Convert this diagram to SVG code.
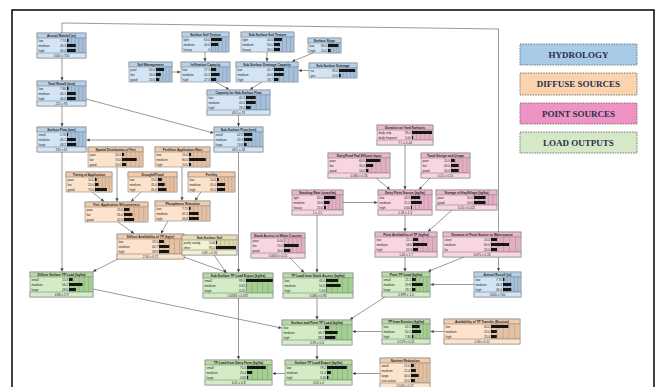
<svg xmlns="http://www.w3.org/2000/svg" width="659" height="387" viewBox="0 0 659 387">
<defs>
<style>
.b,.h,.f{stroke:#6c737a;stroke-width:0.5}
.g{stroke:#6c737a;stroke-width:0.3}
.hy .b,.hy .f{fill:#d3e5f5}.hy .h{fill:#b7d0e8}.hy .g{fill:url(#gB)}
.di .b,.di .f{fill:#fde3cb}.di .h{fill:#f2cbab}.di .g{fill:url(#gO)}
.po .b,.po .f{fill:#f9d5e2}.po .h{fill:#ebb6ca}.po .g{fill:url(#gP)}
.lo .b,.lo .f{fill:#d3ecc6}.lo .h{fill:#b7d9a4}.lo .g{fill:url(#gG)}
.ye .b,.ye .f{fill:#f4f0d2}.ye .h{fill:#e4deb2}.ye .g{fill:url(#gY)}
.bar{fill:#151515}
text{font-family:"Liberation Sans",Arial,sans-serif;fill:#1e1e1e}
.t{font-size:3.2px;font-weight:bold;text-anchor:middle}
.s{font-size:3.1px}
.v{font-size:3.1px;text-anchor:end}
.m{font-size:3.1px;text-anchor:middle}
.c path{fill:none;stroke:#555;stroke-width:0.6;marker-end:url(#ar)}
.lg rect{stroke:#666;stroke-width:0.8;stroke-dasharray:1.6 1}
.lg text{font-family:"Liberation Serif","Times New Roman",serif;font-weight:bold;font-size:9px;fill:#283048;text-anchor:middle}
</style>
<marker id="ar" viewBox="0 0 6 6" refX="6" refY="3" markerWidth="3.2" markerHeight="3.2" markerUnits="userSpaceOnUse" orient="auto"><path d="M0,0L6,3L0,6z" fill="#444"/></marker>
<pattern id="gB" patternUnits="objectBoundingBox" width="0.2" height="1"><rect width="60" height="60" fill="#a7c0da"/><rect width="0.4" height="60" fill="#6f87a0"/></pattern>
<pattern id="gO" patternUnits="objectBoundingBox" width="0.2" height="1"><rect width="60" height="60" fill="#e5c1a3"/><rect width="0.4" height="60" fill="#a8866c"/></pattern>
<pattern id="gP" patternUnits="objectBoundingBox" width="0.2" height="1"><rect width="60" height="60" fill="#e1b0c3"/><rect width="0.4" height="60" fill="#a67a8c"/></pattern>
<pattern id="gG" patternUnits="objectBoundingBox" width="0.2" height="1"><rect width="60" height="60" fill="#a5cf92"/><rect width="0.4" height="60" fill="#6c9a5a"/></pattern>
<pattern id="gY" patternUnits="objectBoundingBox" width="0.2" height="1"><rect width="60" height="60" fill="#ded7a6"/><rect width="0.4" height="60" fill="#9d9670"/></pattern>
</defs>
<rect width="659" height="387" fill="#fff"/>
<rect x="12" y="10" width="642" height="385" fill="none" stroke="#111" stroke-width="1.6"/>

<g id="legend" class="lg">
<rect x="520" y="44" width="117" height="21" fill="#a8cbe8"/><text x="578.5" y="57.5">HYDROLOGY</text>
<rect x="520" y="73" width="117" height="22" fill="#fbd3ae"/><text x="578.5" y="87">DIFFUSE SOURCES</text>
<rect x="520" y="103" width="117" height="21" fill="#ef93c4"/><text x="578.5" y="116.5">POINT SOURCES</text>
<rect x="520" y="132" width="117" height="21" fill="#d5e8c8"/><text x="578.5" y="145.5">LOAD OUTPUTS</text>
</g>

<g id="connectors" class="c">
<path d="M62,33 V23 L498.5,29 V271"/>
<path d="M62,58 V80.5"/>
<path d="M62,106 V126.5"/>
<path d="M86,99 L213.5,133"/>
<path d="M214,140 H86.5"/>
<path d="M62,152 V271.5"/>
<path d="M172,72 H180.5"/>
<path d="M205,52 V61.5"/>
<path d="M267,52 V61.5"/>
<path d="M313,53 L292,61.5"/>
<path d="M309,70.5 H298.5"/>
<path d="M216,82 L229,89.5"/>
<path d="M262,82 L250,89.5"/>
<path d="M238.5,115 V126.5"/>
<path d="M238.5,152 V272.5"/>
<path d="M474,284.5 H430.5"/>
<path d="M117,167 V201.5"/>
<path d="M92,192 L104,201.5"/>
<path d="M141,192 L131,201.5"/>
<path d="M182,167 V200.5"/>
<path d="M201,192 L195,200.5"/>
<path d="M118,222 L134,233.5"/>
<path d="M168,221 L161,233.5"/>
<path d="M118,259 L93,271.5"/>
<path d="M184,257 L227,272.5"/>
<path d="M214,255 L226,272.5"/>
<path d="M93,289 L281.5,328"/>
<path d="M444,331.5 H430.5"/>
<path d="M380,373.5 H352.5"/>
<path d="M405,145 V189.5"/>
<path d="M376,178 L390,189.5"/>
<path d="M430,178 L419,189.5"/>
<path d="M343,202.5 H377.5"/>
<path d="M405,215 V231.5"/>
<path d="M452,210 L428,231.5"/>
<path d="M405,257 V271.5"/>
<path d="M464,257 L428,271.5"/>
<path d="M317,215 V272.5"/>
<path d="M290,258 L304,272.5"/>
<path d="M317,298 V319.5"/>
<path d="M385,297 L350,319.5"/>
<path d="M382,331.5 H352.5"/>
<path d="M317,345 V359.5"/>
<path d="M238.5,298 V359.5"/>
<path d="M285,373.5 H272.5"/>
</g>

<g id="annual-rainfall" class="hy" transform="translate(37,33)"><rect class="b" width="49" height="25"/><rect class="h" width="49" height="5"/><text class="t" x="24.5" y="3.7">Annual Rainfall (m)</text><rect class="g" x="30" y="5" width="19" height="15"/>
<text class="s" x="1.5" y="8.7">low</text><text class="v" x="29" y="8.7">7.70</text><rect class="bar" x="30" y="6" width="1.5" height="3"/>
<text class="s" x="1.5" y="13.7">medium</text><text class="v" x="29" y="13.7">46.3</text><rect class="bar" x="30" y="11" width="8.8" height="3"/>
<text class="s" x="1.5" y="18.7">high</text><text class="v" x="29" y="18.7">46.0</text><rect class="bar" x="30" y="16" width="8.7" height="3"/>
<rect class="f" y="20" width="49" height="5"/><text class="m" x="24.5" y="23.7">1000 ± 700</text></g>

<g id="total-runoff" class="hy" transform="translate(37,81)"><rect class="b" width="49" height="25"/><rect class="h" width="49" height="5"/><text class="t" x="24.5" y="3.7">Total Runoff (mm)</text><rect class="g" x="30" y="5" width="19" height="15"/>
<text class="s" x="1.5" y="8.7">low</text><text class="v" x="29" y="8.7">7.86</text><rect class="bar" x="30" y="6" width="1.5" height="3"/>
<text class="s" x="1.5" y="13.7">medium</text><text class="v" x="29" y="13.7">46.1</text><rect class="bar" x="30" y="11" width="8.8" height="3"/>
<text class="s" x="1.5" y="18.7">high</text><text class="v" x="29" y="18.7">46.0</text><rect class="bar" x="30" y="16" width="8.7" height="3"/>
<rect class="f" y="20" width="49" height="5"/><text class="m" x="24.5" y="23.7">215 ± 95</text></g>

<g id="surface-flow" class="hy" transform="translate(37,127)"><rect class="b" width="49" height="25"/><rect class="h" width="49" height="5"/><text class="t" x="24.5" y="3.7">Surface Flow (mm)</text><rect class="g" x="30" y="5" width="19" height="15"/>
<text class="s" x="1.5" y="8.7">small</text><text class="v" x="29" y="8.7">5.76</text><rect class="bar" x="30" y="6" width="1.1" height="3"/>
<text class="s" x="1.5" y="13.7">medium</text><text class="v" x="29" y="13.7">46.1</text><rect class="bar" x="30" y="11" width="8.8" height="3"/>
<text class="s" x="1.5" y="18.7">large</text><text class="v" x="29" y="18.7">48.2</text><rect class="bar" x="30" y="16" width="9.2" height="3"/>
<rect class="f" y="20" width="49" height="5"/><text class="m" x="24.5" y="23.7">190 ± 61</text></g>

<g id="surface-soil-texture" class="hy" transform="translate(182,32)"><rect class="b" width="47" height="20"/><rect class="h" width="47" height="5"/><text class="t" x="23.5" y="3.7">Surface Soil Texture</text><rect class="g" x="29" y="5" width="18" height="15"/>
<text class="s" x="1.5" y="8.7">light</text><text class="v" x="28" y="8.7">60.0</text><rect class="bar" x="29" y="6" width="10.8" height="3"/>
<text class="s" x="1.5" y="13.7">medium</text><text class="v" x="28" y="13.7">40.0</text><rect class="bar" x="29" y="11" width="7.2" height="3"/>
<text class="s" x="1.5" y="18.7">heavy</text><text class="v" x="28" y="18.7">0</text></g>

<g id="sub-surface-soil-texture" class="hy" transform="translate(241,32)"><rect class="b" width="53" height="20"/><rect class="h" width="53" height="5"/><text class="t" x="26.5" y="3.7">Sub-Surface Soil Texture</text><rect class="g" x="33" y="5" width="20" height="15"/>
<text class="s" x="1.5" y="8.7">light</text><text class="v" x="32" y="8.7">40.0</text><rect class="bar" x="33" y="6" width="8" height="3"/>
<text class="s" x="1.5" y="13.7">medium</text><text class="v" x="32" y="13.7">30.0</text><rect class="bar" x="33" y="11" width="6" height="3"/>
<text class="s" x="1.5" y="18.7">heavy</text><text class="v" x="32" y="18.7">30.0</text><rect class="bar" x="33" y="16" width="6" height="3"/></g>

<g id="surface-slope" class="hy" transform="translate(308,38)"><rect class="b" width="33" height="15"/><rect class="h" width="33" height="5"/><text class="t" x="16.5" y="3.7">Surface Slope</text><rect class="g" x="20" y="5" width="13" height="10"/>
<text class="s" x="1.5" y="8.7">low</text><text class="v" x="19" y="8.7">80.0</text><rect class="bar" x="20" y="6" width="10.4" height="3"/>
<text class="s" x="1.5" y="13.7">high</text><text class="v" x="19" y="13.7">20.0</text><rect class="bar" x="20" y="11" width="2.6" height="3"/></g>

<g id="soil-management" class="hy" transform="translate(129,62)"><rect class="b" width="43" height="20"/><rect class="h" width="43" height="5"/><text class="t" x="21.5" y="3.7">Soil Management</text><rect class="g" x="27" y="5" width="16" height="15"/>
<text class="s" x="1.5" y="8.7">poor</text><text class="v" x="26" y="8.7">50.0</text><rect class="bar" x="27" y="6" width="8" height="3"/>
<text class="s" x="1.5" y="13.7">fair</text><text class="v" x="26" y="13.7">30.0</text><rect class="bar" x="27" y="11" width="4.8" height="3"/>
<text class="s" x="1.5" y="18.7">good</text><text class="v" x="26" y="18.7">20.0</text><rect class="bar" x="27" y="16" width="3.2" height="3"/></g>

<g id="infiltration-capacity" class="hy" transform="translate(181,62)"><rect class="b" width="49" height="20"/><rect class="h" width="49" height="5"/><text class="t" x="24.5" y="3.7">Infiltration Capacity</text><rect class="g" x="30" y="5" width="19" height="15"/>
<text class="s" x="1.5" y="8.7">low</text><text class="v" x="29" y="8.7">27.3</text><rect class="bar" x="30" y="6" width="5.2" height="3"/>
<text class="s" x="1.5" y="13.7">medium</text><text class="v" x="29" y="13.7">45.5</text><rect class="bar" x="30" y="11" width="8.6" height="3"/>
<text class="s" x="1.5" y="18.7">high</text><text class="v" x="29" y="18.7">27.3</text><rect class="bar" x="30" y="16" width="5.2" height="3"/></g>

<g id="sub-surface-drainage-capacity" class="hy" transform="translate(236,62)"><rect class="b" width="62" height="20"/><rect class="h" width="62" height="5"/><text class="t" x="31" y="3.7">Sub-Surface Drainage Capacity</text><rect class="g" x="38" y="5" width="24" height="15"/>
<text class="s" x="1.5" y="8.7">low</text><text class="v" x="37" y="8.7">40.7</text><rect class="bar" x="38" y="6" width="9.8" height="3"/>
<text class="s" x="1.5" y="13.7">medium</text><text class="v" x="37" y="13.7">40.6</text><rect class="bar" x="38" y="11" width="9.7" height="3"/>
<text class="s" x="1.5" y="18.7">high</text><text class="v" x="37" y="18.7">18.7</text><rect class="bar" x="38" y="16" width="4.5" height="3"/></g>

<g id="sub-surface-drainage" class="hy" transform="translate(309,63)"><rect class="b" width="48" height="15"/><rect class="h" width="48" height="5"/><text class="t" x="24" y="3.7">Sub-Surface Drainage</text><rect class="g" x="30" y="5" width="18" height="10"/>
<text class="s" x="1.5" y="8.7">no</text><text class="v" x="29" y="8.7">90.0</text><rect class="bar" x="30" y="6" width="16.2" height="3"/>
<text class="s" x="1.5" y="13.7">yes</text><text class="v" x="29" y="13.7">10.0</text><rect class="bar" x="30" y="11" width="1.8" height="3"/></g>

<g id="capacity-sub-surface-flow" class="hy" transform="translate(207,90)"><rect class="b" width="63" height="25"/><rect class="h" width="63" height="5"/><text class="t" x="31.5" y="3.7">Capacity for Sub-Surface Flow</text><rect class="g" x="39" y="5" width="24" height="15"/>
<text class="s" x="1.5" y="8.7">low</text><text class="v" x="38" y="8.7">40.3</text><rect class="bar" x="39" y="6" width="9.7" height="3"/>
<text class="s" x="1.5" y="13.7">medium</text><text class="v" x="38" y="13.7">40.5</text><rect class="bar" x="39" y="11" width="9.7" height="3"/>
<text class="s" x="1.5" y="18.7">high</text><text class="v" x="38" y="18.7">19.2</text><rect class="bar" x="39" y="16" width="4.6" height="3"/>
<rect class="f" y="20" width="63" height="5"/><text class="m" x="31.5" y="23.7">49.5 ± 19</text></g>

<g id="sub-surface-flow" class="hy" transform="translate(214,127)"><rect class="b" width="49" height="25"/><rect class="h" width="49" height="5"/><text class="t" x="24.5" y="3.7">Sub-Surface Flow (mm)</text><rect class="g" x="30" y="5" width="19" height="15"/>
<text class="s" x="1.5" y="8.7">small</text><text class="v" x="29" y="8.7">42.9</text><rect class="bar" x="30" y="6" width="8.2" height="3"/>
<text class="s" x="1.5" y="13.7">medium</text><text class="v" x="29" y="13.7">43.3</text><rect class="bar" x="30" y="11" width="8.2" height="3"/>
<text class="s" x="1.5" y="18.7">large</text><text class="v" x="29" y="18.7">13.8</text><rect class="bar" x="30" y="16" width="2.6" height="3"/>
<rect class="f" y="20" width="49" height="5"/><text class="m" x="24.5" y="23.7">49.5 ± 18</text></g>

<g id="annual-runoff" class="hy" transform="translate(474,272)"><rect class="b" width="47" height="25"/><rect class="h" width="47" height="5"/><text class="t" x="23.5" y="3.7">Annual Runoff (m)</text><rect class="g" x="29" y="5" width="18" height="15"/>
<text class="s" x="1.5" y="8.7">low</text><text class="v" x="28" y="8.7">7.70</text><rect class="bar" x="29" y="6" width="1.4" height="3"/>
<text class="s" x="1.5" y="13.7">medium</text><text class="v" x="28" y="13.7">46.3</text><rect class="bar" x="29" y="11" width="8.3" height="3"/>
<text class="s" x="1.5" y="18.7">high</text><text class="v" x="28" y="18.7">46.0</text><rect class="bar" x="29" y="16" width="8.3" height="3"/>
<rect class="f" y="20" width="47" height="5"/><text class="m" x="23.5" y="23.7">1000 ± 700</text></g>

<g id="spatial-distribution" class="di" transform="translate(88,147)"><rect class="b" width="55" height="20"/><rect class="h" width="55" height="5"/><text class="t" x="27.5" y="3.7">Spatial Distribution of Fert</text><rect class="g" x="34" y="5" width="21" height="15"/>
<text class="s" x="1.5" y="8.7">poor</text><text class="v" x="33" y="8.7">10.0</text><rect class="bar" x="34" y="6" width="2.1" height="3"/>
<text class="s" x="1.5" y="13.7">fair</text><text class="v" x="33" y="13.7">70.0</text><rect class="bar" x="34" y="11" width="14.7" height="3"/>
<text class="s" x="1.5" y="18.7">good</text><text class="v" x="33" y="18.7">20.0</text><rect class="bar" x="34" y="16" width="4.2" height="3"/></g>

<g id="fertiliser-application-rate" class="di" transform="translate(155,147)"><rect class="b" width="55" height="20"/><rect class="h" width="55" height="5"/><text class="t" x="27.5" y="3.7">Fertiliser Application Rate</text><rect class="g" x="34" y="5" width="21" height="15"/>
<text class="s" x="1.5" y="8.7">low</text><text class="v" x="33" y="8.7">10.0</text><rect class="bar" x="34" y="6" width="2.1" height="3"/>
<text class="s" x="1.5" y="13.7">medium</text><text class="v" x="33" y="13.7">80.0</text><rect class="bar" x="34" y="11" width="16.8" height="3"/>
<text class="s" x="1.5" y="18.7">high</text><text class="v" x="33" y="18.7">10.0</text><rect class="bar" x="34" y="16" width="2.1" height="3"/></g>

<g id="timing-of-application" class="di" transform="translate(66,172)"><rect class="b" width="46" height="20"/><rect class="h" width="46" height="5"/><text class="t" x="23" y="3.7">Timing of Application</text><rect class="g" x="29" y="5" width="17" height="15"/>
<text class="s" x="1.5" y="8.7">poor</text><text class="v" x="28" y="8.7">10.0</text><rect class="bar" x="29" y="6" width="1.7" height="3"/>
<text class="s" x="1.5" y="13.7">fair</text><text class="v" x="28" y="13.7">20.0</text><rect class="bar" x="29" y="11" width="3.4" height="3"/>
<text class="s" x="1.5" y="18.7">good</text><text class="v" x="28" y="18.7">70.0</text><rect class="bar" x="29" y="16" width="11.9" height="3"/></g>

<g id="drought-flood" class="di" transform="translate(128,172)"><rect class="b" width="49" height="20"/><rect class="h" width="49" height="5"/><text class="t" x="24.5" y="3.7">Drought/Flood</text><rect class="g" x="30" y="5" width="19" height="15"/>
<text class="s" x="1.5" y="8.7">low</text><text class="v" x="29" y="8.7">20.0</text><rect class="bar" x="30" y="6" width="3.8" height="3"/>
<text class="s" x="1.5" y="13.7">medium</text><text class="v" x="29" y="13.7">35.0</text><rect class="bar" x="30" y="11" width="6.7" height="3"/>
<text class="s" x="1.5" y="18.7">high</text><text class="v" x="29" y="18.7">45.0</text><rect class="bar" x="30" y="16" width="8.5" height="3"/></g>

<g id="fertility" class="di" transform="translate(188,172)"><rect class="b" width="47" height="20"/><rect class="h" width="47" height="5"/><text class="t" x="23.5" y="3.7">Fertility</text><rect class="g" x="29" y="5" width="18" height="15"/>
<text class="s" x="1.5" y="8.7">low</text><text class="v" x="28" y="8.7">10.0</text><rect class="bar" x="29" y="6" width="1.8" height="3"/>
<text class="s" x="1.5" y="13.7">medium</text><text class="v" x="28" y="13.7">45.0</text><rect class="bar" x="29" y="11" width="8.1" height="3"/>
<text class="s" x="1.5" y="18.7">high</text><text class="v" x="28" y="18.7">45.0</text><rect class="bar" x="29" y="16" width="8.1" height="3"/></g>

<g id="fert-application-effectiveness" class="di" transform="translate(85,202)"><rect class="b" width="63" height="20"/><rect class="h" width="63" height="5"/><text class="t" x="31.5" y="3.7">Fert. Application Effectiveness</text><rect class="g" x="39" y="5" width="24" height="15"/>
<text class="s" x="1.5" y="8.7">poor</text><text class="v" x="38" y="8.7">23.0</text><rect class="bar" x="39" y="6" width="5.5" height="3"/>
<text class="s" x="1.5" y="13.7">fair</text><text class="v" x="38" y="13.7">35.0</text><rect class="bar" x="39" y="11" width="8.4" height="3"/>
<text class="s" x="1.5" y="18.7">good</text><text class="v" x="38" y="18.7">42.0</text><rect class="bar" x="39" y="16" width="10.1" height="3"/></g>

<g id="phosphorus-retention" class="di" transform="translate(155,201)"><rect class="b" width="55" height="20"/><rect class="h" width="55" height="5"/><text class="t" x="27.5" y="3.7">Phosphorus Retention</text><rect class="g" x="34" y="5" width="21" height="15"/>
<text class="s" x="1.5" y="8.7">low</text><text class="v" x="33" y="8.7">7.75</text><rect class="bar" x="34" y="6" width="1.6" height="3"/>
<text class="s" x="1.5" y="13.7">medium</text><text class="v" x="33" y="13.7">45.5</text><rect class="bar" x="34" y="11" width="9.6" height="3"/>
<text class="s" x="1.5" y="18.7">high</text><text class="v" x="33" y="18.7">46.8</text><rect class="bar" x="34" y="16" width="9.8" height="3"/></g>

<g id="diffuse-availability-tp" class="di" transform="translate(117,234)"><rect class="b" width="67" height="25"/><rect class="h" width="67" height="5"/><text class="t" x="33.5" y="3.7">Diffuse Availability of TP (kg/yr)</text><rect class="g" x="42" y="5" width="25" height="15"/>
<text class="s" x="1.5" y="8.7">low</text><text class="v" x="41" y="8.7">19.4</text><rect class="bar" x="42" y="6" width="4.9" height="3"/>
<text class="s" x="1.5" y="13.7">medium</text><text class="v" x="41" y="13.7">40.7</text><rect class="bar" x="42" y="11" width="10.2" height="3"/>
<text class="s" x="1.5" y="18.7">high</text><text class="v" x="41" y="18.7">39.9</text><rect class="bar" x="42" y="16" width="10" height="3"/>
<rect class="f" y="20" width="67" height="5"/><text class="m" x="33.5" y="23.7">2.56 ± 0.71</text></g>

<g id="sub-surface-soil" class="ye" transform="translate(182,235)"><rect class="b" width="55" height="20"/><rect class="h" width="55" height="5"/><text class="t" x="27.5" y="3.7">Sub-Surface Soil</text><rect class="g" x="34" y="5" width="21" height="10"/>
<text class="s" x="1.5" y="8.7">partly sandy</text><text class="v" x="33" y="8.7">5.00</text><rect class="bar" x="34" y="6" width="1.1" height="3"/>
<text class="s" x="1.5" y="13.7">other</text><text class="v" x="33" y="13.7">95.0</text><rect class="bar" x="34" y="11" width="20" height="3"/>
<rect class="f" y="15" width="55" height="5"/><text class="m" x="27.5" y="18.7">0.85 ± 0.36</text></g>

<g id="availability-tp-erosion" class="di" transform="translate(444,319)"><rect class="b" width="76" height="25"/><rect class="h" width="76" height="5"/><text class="t" x="38" y="3.7">Availability of TP Transfer (Erosion)</text><rect class="g" x="47" y="5" width="29" height="15"/>
<text class="s" x="1.5" y="8.7">low</text><text class="v" x="46" y="8.7">60.0</text><rect class="bar" x="47" y="6" width="17.4" height="3"/>
<text class="s" x="1.5" y="13.7">medium</text><text class="v" x="46" y="13.7">20.0</text><rect class="bar" x="47" y="11" width="5.8" height="3"/>
<text class="s" x="1.5" y="18.7">high</text><text class="v" x="46" y="18.7">20.0</text><rect class="bar" x="47" y="16" width="5.8" height="3"/>
<rect class="f" y="20" width="76" height="5"/><text class="m" x="38" y="23.7">0.30 ± 0.11</text></g>

<g id="nutrient-reduction" class="di" transform="translate(380,358)"><rect class="b" width="50" height="30"/><rect class="h" width="50" height="5"/><text class="t" x="25" y="3.7">Nutrient Reduction</text><rect class="g" x="31" y="5" width="19" height="20"/>
<text class="s" x="1.5" y="8.7">small</text><text class="v" x="30" y="8.7">15.0</text><rect class="bar" x="31" y="6" width="2.9" height="3"/>
<text class="s" x="1.5" y="13.7">medium</text><text class="v" x="30" y="13.7">25.0</text><rect class="bar" x="31" y="11" width="4.8" height="3"/>
<text class="s" x="1.5" y="18.7">large</text><text class="v" x="30" y="18.7">40.0</text><rect class="bar" x="31" y="16" width="7.6" height="3"/>
<text class="s" x="1.5" y="23.7">non-active</text><text class="v" x="30" y="23.7">20.0</text><rect class="bar" x="31" y="21" width="3.8" height="3"/>
<rect class="f" y="25" width="50" height="5"/><text class="m" x="25" y="28.7">0.503 ± 0.17</text></g>

<g id="duration-on-yard-surfaces" class="po" transform="translate(377,125)"><rect class="b" width="56" height="20"/><rect class="h" width="56" height="5"/><text class="t" x="28" y="3.7">Duration on Yard Surfaces</text><rect class="g" x="35" y="5" width="21" height="10"/>
<text class="s" x="1.5" y="8.7">daily only</text><text class="v" x="34" y="8.7">95.0</text><rect class="bar" x="35" y="6" width="20" height="3"/>
<text class="s" x="1.5" y="13.7">daily frequent</text><text class="v" x="34" y="13.7">5.00</text><rect class="bar" x="35" y="11" width="1.1" height="3"/>
<rect class="f" y="15" width="56" height="5"/><text class="m" x="28" y="18.7">7.1 ± 0.44</text></g>

<g id="dairy-effluent-input" class="po" transform="translate(328,153)"><rect class="b" width="62" height="25"/><rect class="h" width="62" height="5"/><text class="t" x="31" y="3.7">Dairy/Feed Pad Effluent Input</text><rect class="g" x="38" y="5" width="24" height="15"/>
<text class="s" x="1.5" y="8.7">poor</text><text class="v" x="37" y="8.7">60.0</text><rect class="bar" x="38" y="6" width="14.4" height="3"/>
<text class="s" x="1.5" y="13.7">fair</text><text class="v" x="37" y="13.7">30.0</text><rect class="bar" x="38" y="11" width="7.2" height="3"/>
<text class="s" x="1.5" y="18.7">good</text><text class="v" x="37" y="18.7">10.0</text><rect class="bar" x="38" y="16" width="2.4" height="3"/>
<rect class="f" y="20" width="62" height="5"/><text class="m" x="31" y="23.7">0.085 ± 0.16</text></g>

<g id="track-design-usage" class="po" transform="translate(421,153)"><rect class="b" width="49" height="25"/><rect class="h" width="49" height="5"/><text class="t" x="24.5" y="3.7">Track Design and Usage</text><rect class="g" x="30" y="5" width="19" height="15"/>
<text class="s" x="1.5" y="8.7">poor</text><text class="v" x="29" y="8.7">20.0</text><rect class="bar" x="30" y="6" width="3.8" height="3"/>
<text class="s" x="1.5" y="13.7">fair</text><text class="v" x="29" y="13.7">40.0</text><rect class="bar" x="30" y="11" width="7.6" height="3"/>
<text class="s" x="1.5" y="18.7">good</text><text class="v" x="29" y="18.7">40.0</text><rect class="bar" x="30" y="16" width="7.6" height="3"/>
<rect class="f" y="20" width="49" height="5"/><text class="m" x="24.5" y="23.7">0.15 ± 0.14</text></g>

<g id="stocking-rate" class="po" transform="translate(292,190)"><rect class="b" width="51" height="25"/><rect class="h" width="51" height="5"/><text class="t" x="25.5" y="3.7">Stocking Rate (cows/ha)</text><rect class="g" x="32" y="5" width="19" height="15"/>
<text class="s" x="1.5" y="8.7">light</text><text class="v" x="31" y="8.7">60.0</text><rect class="bar" x="32" y="6" width="11.4" height="3"/>
<text class="s" x="1.5" y="13.7">medium</text><text class="v" x="31" y="13.7">30.0</text><rect class="bar" x="32" y="11" width="5.7" height="3"/>
<text class="s" x="1.5" y="18.7">heavy</text><text class="v" x="31" y="18.7">10.0</text><rect class="bar" x="32" y="16" width="1.9" height="3"/>
<rect class="f" y="20" width="51" height="5"/><text class="m" x="25.5" y="23.7">2 ± 2.5</text></g>

<g id="dairy-point-source" class="po" transform="translate(378,190)"><rect class="b" width="54" height="25"/><rect class="h" width="54" height="5"/><text class="t" x="27" y="3.7">Dairy Point Source (kg/ha)</text><rect class="g" x="33" y="5" width="21" height="15"/>
<text class="s" x="1.5" y="8.7">low</text><text class="v" x="32" y="8.7">43.9</text><rect class="bar" x="33" y="6" width="9.2" height="3"/>
<text class="s" x="1.5" y="13.7">medium</text><text class="v" x="32" y="13.7">51.5</text><rect class="bar" x="33" y="11" width="10.8" height="3"/>
<text class="s" x="1.5" y="18.7">high</text><text class="v" x="32" y="18.7">4.60</text><rect class="bar" x="33" y="16" width="1" height="3"/>
<rect class="f" y="20" width="54" height="5"/><text class="m" x="27" y="23.7">1.28 ± 1.3</text></g>

<g id="storage-hay-silage" class="po" transform="translate(436,190)"><rect class="b" width="61" height="20"/><rect class="h" width="61" height="5"/><text class="t" x="30.5" y="3.7">Storage of Hay/Silage (kg/ha)</text><rect class="g" x="38" y="5" width="23" height="10"/>
<text class="s" x="1.5" y="8.7">poor</text><text class="v" x="37" y="8.7">50.0</text><rect class="bar" x="38" y="6" width="11.5" height="3"/>
<text class="s" x="1.5" y="13.7">good</text><text class="v" x="37" y="13.7">50.0</text><rect class="bar" x="38" y="11" width="11.5" height="3"/>
<rect class="f" y="15" width="61" height="5"/><text class="m" x="30.5" y="18.7">0.15 ± 0.021</text></g>

<g id="point-availability-tp" class="po" transform="translate(375,232)"><rect class="b" width="62" height="25"/><rect class="h" width="62" height="5"/><text class="t" x="31" y="3.7">Point Availability of TP (kg/ha)</text><rect class="g" x="38" y="5" width="24" height="15"/>
<text class="s" x="1.5" y="8.7">low</text><text class="v" x="37" y="8.7">21.1</text><rect class="bar" x="38" y="6" width="5.1" height="3"/>
<text class="s" x="1.5" y="13.7">medium</text><text class="v" x="37" y="13.7">58.6</text><rect class="bar" x="38" y="11" width="14.1" height="3"/>
<text class="s" x="1.5" y="18.7">high</text><text class="v" x="37" y="18.7">20.3</text><rect class="bar" x="38" y="16" width="4.9" height="3"/>
<rect class="f" y="20" width="62" height="5"/><text class="m" x="31" y="23.7">1.40 ± 1.7</text></g>

<g id="distance-to-watercourse" class="po" transform="translate(443,232)"><rect class="b" width="78" height="25"/><rect class="h" width="78" height="5"/><text class="t" x="39" y="3.7">Distance of Point Source to Watercourse</text><rect class="g" x="48" y="5" width="30" height="15"/>
<text class="s" x="1.5" y="8.7">close</text><text class="v" x="47" y="8.7">20.0</text><rect class="bar" x="48" y="6" width="6" height="3"/>
<text class="s" x="1.5" y="13.7">medium</text><text class="v" x="47" y="13.7">60.0</text><rect class="bar" x="48" y="11" width="18" height="3"/>
<text class="s" x="1.5" y="18.7">far</text><text class="v" x="47" y="18.7">20.0</text><rect class="bar" x="48" y="16" width="6" height="3"/>
<rect class="f" y="20" width="78" height="5"/><text class="m" x="39" y="23.7">0.675 ± 0.24</text></g>

<g id="stock-access-water-courses" class="po" transform="translate(251,233)"><rect class="b" width="54" height="25"/><rect class="h" width="54" height="5"/><text class="t" x="27" y="3.7">Stock Access to Water Courses</text><rect class="g" x="33" y="5" width="21" height="15"/>
<text class="s" x="1.5" y="8.7">poor</text><text class="v" x="32" y="8.7">0.00</text>
<text class="s" x="1.5" y="13.7">fair</text><text class="v" x="32" y="13.7">70.0</text><rect class="bar" x="33" y="11" width="14.7" height="3"/>
<text class="s" x="1.5" y="18.7">good</text><text class="v" x="32" y="18.7">30.0</text><rect class="bar" x="33" y="16" width="6.3" height="3"/>
<rect class="f" y="20" width="54" height="5"/><text class="m" x="27" y="23.7">0.0610 ± 0.11</text></g>

<g id="diffuse-surface-tp-load" class="lo" transform="translate(30,272)"><rect class="b" width="63" height="25"/><rect class="h" width="63" height="5"/><text class="t" x="31.5" y="3.7">Diffuse Surface TP Load (kg/ha)</text><rect class="g" x="39" y="5" width="24" height="15"/>
<text class="s" x="1.5" y="8.7">small</text><text class="v" x="38" y="8.7">15.3</text><rect class="bar" x="39" y="6" width="3.7" height="3"/>
<text class="s" x="1.5" y="13.7">medium</text><text class="v" x="38" y="13.7">56.1</text><rect class="bar" x="39" y="11" width="13.5" height="3"/>
<text class="s" x="1.5" y="18.7">large</text><text class="v" x="38" y="18.7">28.6</text><rect class="bar" x="39" y="16" width="6.9" height="3"/>
<rect class="f" y="20" width="63" height="5"/><text class="m" x="31.5" y="23.7">4.86 ± 2.9</text></g>

<g id="sub-surface-tp-load-export" class="lo" transform="translate(203,273)"><rect class="b" width="70" height="25"/><rect class="h" width="70" height="5"/><text class="t" x="35" y="3.7">Sub-Surface TP Load Export (kg/ha)</text><rect class="g" x="43" y="5" width="27" height="15"/>
<text class="s" x="1.5" y="8.7">small</text><text class="v" x="42" y="8.7">99.3</text><rect class="bar" x="43" y="6" width="26.8" height="3"/>
<text class="s" x="1.5" y="13.7">medium</text><text class="v" x="42" y="13.7">0.65</text><rect class="bar" x="43" y="11" width="0.3" height="3"/>
<text class="s" x="1.5" y="18.7">large</text><text class="v" x="42" y="18.7">0.05</text>
<rect class="f" y="20" width="70" height="5"/><text class="m" x="35" y="23.7">0.0581 ± 0.071</text></g>

<g id="tp-load-stock-access" class="lo" transform="translate(283,273)"><rect class="b" width="70" height="25"/><rect class="h" width="70" height="5"/><text class="t" x="35" y="3.7">TP Load from Stock Access (kg/ha)</text><rect class="g" x="43" y="5" width="27" height="15"/>
<text class="s" x="1.5" y="8.7">low</text><text class="v" x="42" y="8.7">45.0</text><rect class="bar" x="43" y="6" width="12.2" height="3"/>
<text class="s" x="1.5" y="13.7">medium</text><text class="v" x="42" y="13.7">54.0</text><rect class="bar" x="43" y="11" width="14.6" height="3"/>
<text class="s" x="1.5" y="18.7">high</text><text class="v" x="42" y="18.7">1.00</text><rect class="bar" x="43" y="16" width="0.3" height="3"/>
<rect class="f" y="20" width="70" height="5"/><text class="m" x="35" y="23.7">0.080 ± 0.95</text></g>

<g id="point-tp-load" class="lo" transform="translate(382,272)"><rect class="b" width="48" height="25"/><rect class="h" width="48" height="5"/><text class="t" x="24" y="3.7">Point TP Load (kg/ha)</text><rect class="g" x="30" y="5" width="18" height="15"/>
<text class="s" x="1.5" y="8.7">small</text><text class="v" x="29" y="8.7">21.1</text><rect class="bar" x="30" y="6" width="3.8" height="3"/>
<text class="s" x="1.5" y="13.7">medium</text><text class="v" x="29" y="13.7">59.8</text><rect class="bar" x="30" y="11" width="10.8" height="3"/>
<text class="s" x="1.5" y="18.7">large</text><text class="v" x="29" y="18.7">19.1</text><rect class="bar" x="30" y="16" width="3.4" height="3"/>
<rect class="f" y="20" width="48" height="5"/><text class="m" x="24" y="23.7">0.999 ± 1.4</text></g>

<g id="surface-point-tp-load" class="lo" transform="translate(282,320)"><rect class="b" width="70" height="25"/><rect class="h" width="70" height="5"/><text class="t" x="35" y="3.7">Surface and Point TP Load (kg/ha)</text><rect class="g" x="43" y="5" width="27" height="15"/>
<text class="s" x="1.5" y="8.7">low</text><text class="v" x="42" y="8.7">15.1</text><rect class="bar" x="43" y="6" width="4.1" height="3"/>
<text class="s" x="1.5" y="13.7">medium</text><text class="v" x="42" y="13.7">46.7</text><rect class="bar" x="43" y="11" width="12.6" height="3"/>
<text class="s" x="1.5" y="18.7">high</text><text class="v" x="42" y="18.7">38.2</text><rect class="bar" x="43" y="16" width="10.3" height="3"/>
<rect class="f" y="20" width="70" height="5"/><text class="m" x="35" y="23.7">0.95 ± 0.6</text></g>

<g id="tp-from-erosion" class="lo" transform="translate(382,319)"><rect class="b" width="48" height="25"/><rect class="h" width="48" height="5"/><text class="t" x="24" y="3.7">TP from Erosion (kg/ha)</text><rect class="g" x="30" y="5" width="18" height="15"/>
<text class="s" x="1.5" y="8.7">low</text><text class="v" x="29" y="8.7">42.1</text><rect class="bar" x="30" y="6" width="7.6" height="3"/>
<text class="s" x="1.5" y="13.7">medium</text><text class="v" x="29" y="13.7">50.1</text><rect class="bar" x="30" y="11" width="9" height="3"/>
<text class="s" x="1.5" y="18.7">high</text><text class="v" x="29" y="18.7">7.80</text><rect class="bar" x="30" y="16" width="1.4" height="3"/>
<rect class="f" y="20" width="48" height="5"/><text class="m" x="24" y="23.7">0.129 ± 0.21</text></g>

<g id="tp-load-dairy-farm" class="lo" transform="translate(205,360)"><rect class="b" width="67" height="25"/><rect class="h" width="67" height="5"/><text class="t" x="33.5" y="3.7">TP Load from Dairy Farm (kg/ha)</text><rect class="g" x="42" y="5" width="25" height="15"/>
<text class="s" x="1.5" y="8.7">small</text><text class="v" x="41" y="8.7">75.0</text><rect class="bar" x="42" y="6" width="18.8" height="3"/>
<text class="s" x="1.5" y="13.7">medium</text><text class="v" x="41" y="13.7">20.4</text><rect class="bar" x="42" y="11" width="5.1" height="3"/>
<text class="s" x="1.5" y="18.7">large</text><text class="v" x="41" y="18.7">4.60</text><rect class="bar" x="42" y="16" width="1.2" height="3"/>
<rect class="f" y="20" width="67" height="5"/><text class="m" x="33.5" y="23.7">4.41 ± 4.8</text></g>

<g id="surface-tp-load-export" class="lo" transform="translate(285,360)"><rect class="b" width="67" height="25"/><rect class="h" width="67" height="5"/><text class="t" x="33.5" y="3.7">Surface TP Load Export (kg/ha)</text><rect class="g" x="42" y="5" width="25" height="15"/>
<text class="s" x="1.5" y="8.7">low</text><text class="v" x="41" y="8.7">79.2</text><rect class="bar" x="42" y="6" width="19.8" height="3"/>
<text class="s" x="1.5" y="13.7">medium</text><text class="v" x="41" y="13.7">15.4</text><rect class="bar" x="42" y="11" width="3.9" height="3"/>
<text class="s" x="1.5" y="18.7">high</text><text class="v" x="41" y="18.7">5.40</text><rect class="bar" x="42" y="16" width="1.4" height="3"/>
<rect class="f" y="20" width="67" height="5"/><text class="m" x="33.5" y="23.7">4.55 ± 4</text></g>
</svg>
